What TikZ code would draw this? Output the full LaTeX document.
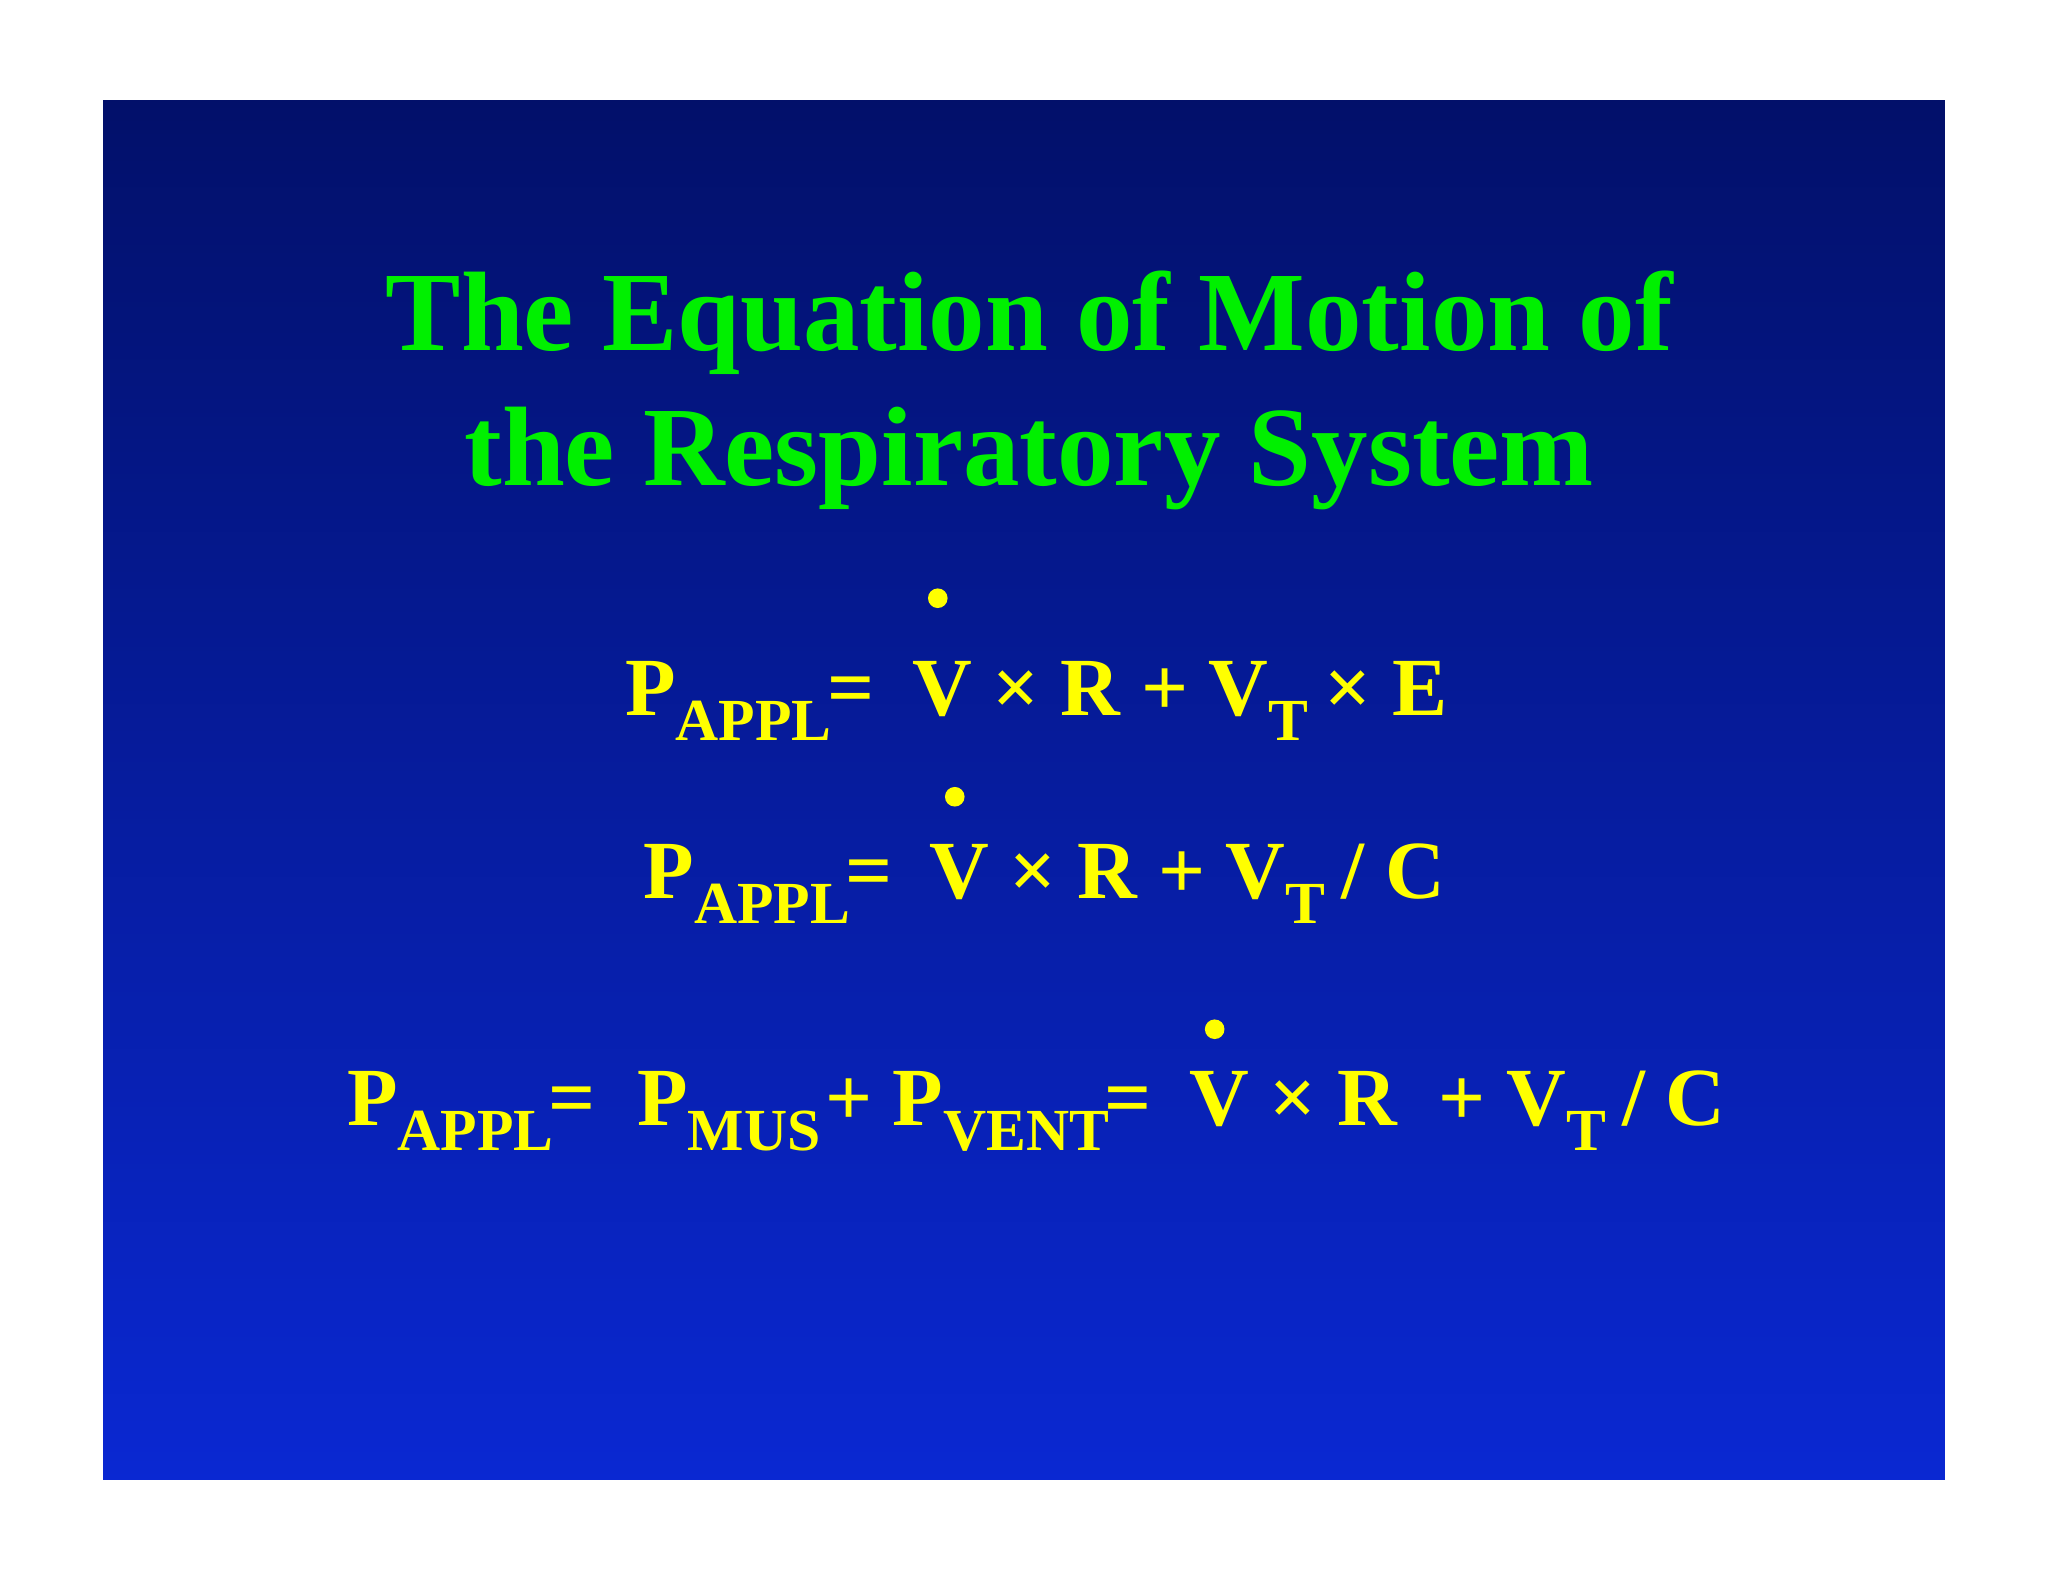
\documentclass[tikz,border=0pt]{standalone}
\usepackage{fontspec}
\setmainfont{Liberation Serif}
\definecolor{topb}{HTML}{02106A}
\definecolor{botb}{HTML}{0A28D2}
\definecolor{ttl}{HTML}{00F000}
\definecolor{eqy}{HTML}{FFFF00}
\newcommand{\sbx}[1]{\raisebox{-0.3em}{\fontsize{13}{13}\selectfont #1}}
\begin{document}
\begin{tikzpicture}[x=0.01cm,y=-0.01cm,
  ttlstyle/.style={text=ttl,font=\fontsize{24.6}{30}\selectfont\bfseries,align=center},
  eqstyle/.style={text=eqy,font=\fontsize{18}{18}\selectfont\bfseries,anchor=base west,inner sep=0pt},
  dotstyle/.style={circle,fill=eqy,inner sep=0pt,minimum size=0.15cm}]
\useasboundingbox (0,0) rectangle (1568,1211);
\fill[white] (0,0) rectangle (1568,1211);
\shade[top color=topb,bottom color=botb] (79,77) rectangle (1489,1133);
\node[ttlstyle,anchor=base] (t1) at (788,268) {The Equation of Motion of};
\node[ttlstyle,anchor=base] (t2) at (788,372) {the Respiratory System};
\node[eqstyle] (e1a) at (478,548) {P\sbx{APPL}\kern-1pt=};
\node[eqstyle] (e1b) at (698,548) {V × R + V\sbx{T}\kern-1pt{} × E};
\node[eqstyle] (e2a) at (492,688) {P\sbx{APPL}\kern-1pt=};
\node[eqstyle] (e2b) at (711,688) {V × R + V\sbx{T}\kern-1pt{} / C};
\node[eqstyle] (e3a) at (265,862) {P\sbx{APPL}\kern-1pt= \ P\sbx{MUS}\kern1pt+ P\sbx{VENT}\kern-1pt=};
\node[eqstyle] (e3b) at (910,862) {V × R \ + V\sbx{T}\kern-1pt{} / C};
\node[dotstyle] (d1) at (718,458) {};
\node[dotstyle] (d2) at (731,610) {};
\node[dotstyle] (d3) at (930,788) {};
\end{tikzpicture}
\end{document}
